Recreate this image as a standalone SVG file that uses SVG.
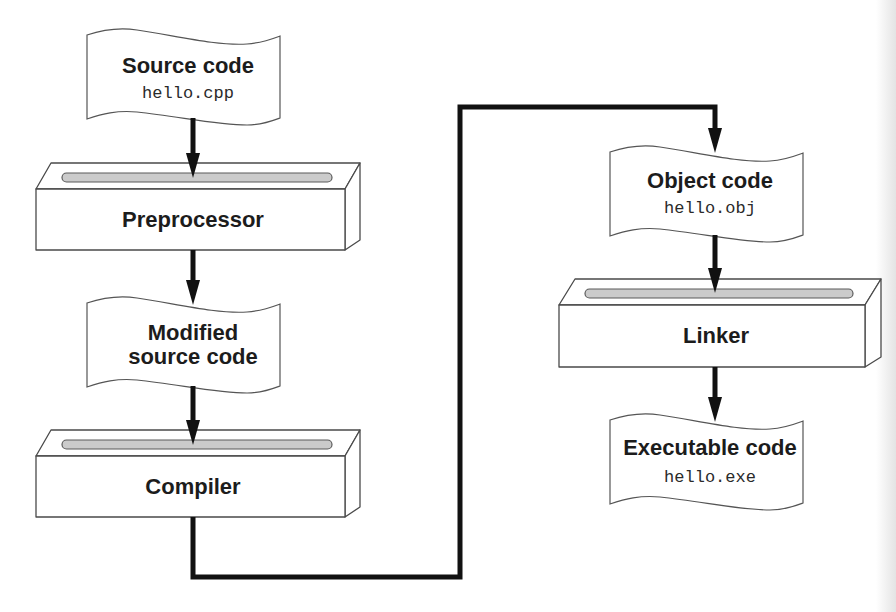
<svg xmlns="http://www.w3.org/2000/svg" width="896" height="612" viewBox="0 0 896 612">
<style>
.face{fill:#fff;stroke:#4a4a4a;stroke-width:1.3;stroke-linejoin:round}
.slot{fill:#cbcbcb;stroke:#5a5a5a;stroke-width:1.2}
.doc{fill:#fff;stroke:#555;stroke-width:1.2}
.lbl{font-family:"Liberation Sans",Arial,sans-serif;font-weight:bold;font-size:22px;fill:#1c1c1c;text-anchor:middle}
.mono{font-family:"Liberation Mono","Courier New",monospace;font-size:17px;fill:#2a2a2a;text-anchor:middle}
.conn{fill:none;stroke:#111;stroke-width:5;stroke-linejoin:miter}
</style>
<defs>
<linearGradient id="edge" x1="0" y1="0" x2="1" y2="0">
<stop offset="0" stop-color="#fff"/>
<stop offset="1" stop-color="#e4e4e4"/>
</linearGradient>
<marker id="ah" markerUnits="userSpaceOnUse" markerWidth="25" markerHeight="14" refX="0" refY="7" orient="auto" viewBox="0 0 25 14">
<path d="M0,0 L25,7 L0,14 Z" fill="#111"/>
</marker>
<path id="docshape" d="M0,5 C15,0 30,-3 50,0 C90,6 130,16 160,14 C175,13 185,9 193,6 L193,88 C185,91 175,95 160,95 C130,95 90,86 50,82 C30,80 15,84 0,89 Z"/>
</defs>
<rect width="896" height="612" fill="#fff"/>
<rect x="876" y="0" width="20" height="612" fill="url(#edge)"/>

<g id="source-code">
<use href="#docshape" class="doc" transform="translate(87,30)"/>
<text class="lbl" x="188" y="73">Source code</text>
<text class="mono" x="188" y="98">hello.cpp</text>
</g>

<g id="preprocessor">
<path class="face" d="M36,189 L51,163 L360,163 L345,189 Z"/>
<path class="face" d="M345,189 L360,163 L360,240 L345,250 Z"/>
<rect class="face" x="36" y="189" width="309" height="61"/>
<rect class="slot" x="62" y="173" width="270" height="9" rx="4.5"/>
<text class="lbl" x="193" y="227">Preprocessor</text>
</g>

<g id="modified-source">
<use href="#docshape" class="doc" transform="translate(87,298)"/>
<text class="lbl" x="193" y="340">Modified</text>
<text class="lbl" x="193" y="364">source code</text>
</g>

<g id="compiler">
<path class="face" d="M36,456 L51,430 L360,430 L345,456 Z"/>
<path class="face" d="M345,456 L360,430 L360,507 L345,517 Z"/>
<rect class="face" x="36" y="456" width="309" height="61"/>
<rect class="slot" x="62" y="440" width="270" height="9" rx="4.5"/>
<text class="lbl" x="193" y="494">Compiler</text>
</g>

<g id="object-code">
<use href="#docshape" class="doc" transform="translate(610,147)"/>
<text class="lbl" x="710" y="188">Object code</text>
<text class="mono" x="710" y="213">hello.obj</text>
</g>

<g id="linker">
<path class="face" d="M559,305 L575,279 L881,279 L865,305 Z"/>
<path class="face" d="M865,305 L881,279 L881,357 L865,367 Z"/>
<rect class="face" x="559" y="305" width="306" height="62"/>
<rect class="slot" x="585" y="289" width="268" height="9" rx="4.5"/>
<text class="lbl" x="716" y="343">Linker</text>
</g>

<g id="executable-code">
<use href="#docshape" class="doc" transform="translate(610,415)"/>
<text class="lbl" x="710" y="455">Executable code</text>
<text class="mono" x="710" y="482">hello.exe</text>
</g>

<g id="connectors">
<path class="conn" d="M193,118 L193,153" marker-end="url(#ah)"/>
<path class="conn" d="M193,250 L193,280" marker-end="url(#ah)"/>
<path class="conn" d="M193,386 L193,420" marker-end="url(#ah)"/>
<path class="conn" d="M193,517 L193,577 L460,577 L460,107 L715,107 L715,128" stroke-width="6" marker-end="url(#ah)"/>
<path class="conn" d="M715,235 L715,268" marker-end="url(#ah)"/>
<path class="conn" d="M715,367 L715,397" marker-end="url(#ah)"/>
</g>
</svg>
